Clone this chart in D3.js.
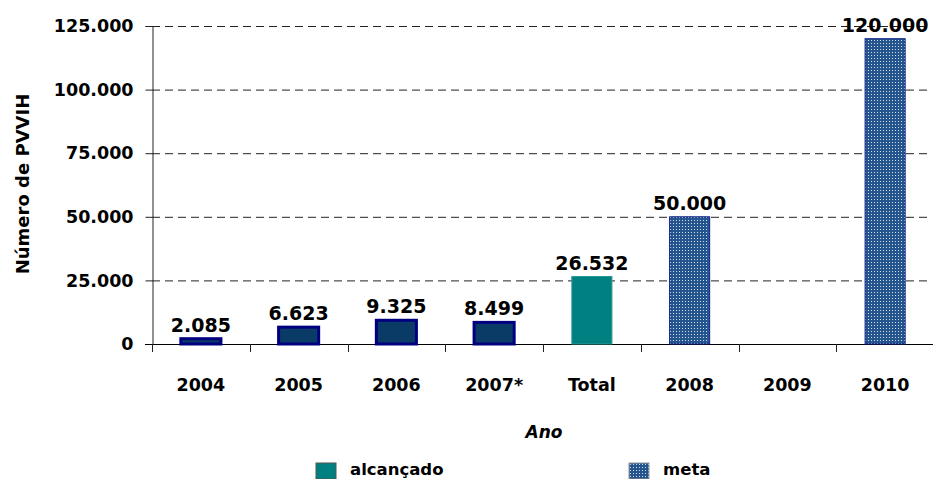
<!DOCTYPE html>
<html>
<head>
<meta charset="utf-8">
<script src="https://cdn.jsdelivr.net/npm/d3@7"></script>
<style>
  body { margin: 0; background: #fff; }
  text { font-family: "DejaVu Sans", sans-serif; font-weight: bold; fill: #000; }
</style>
</head>
<body>
<div id="chart"></div>
<script>
// dados
var categorias = ["2004", "2005", "2006", "2007*", "Total", "2008", "2009", "2010"];
var anuais = [
  { ano: "2004", valor: 2085 },
  { ano: "2005", valor: 6623 },
  { ano: "2006", valor: 9325 },
  { ano: "2007*", valor: 8499 }
];
var alcancado = [{ ano: "Total", valor: 26532 }];
var meta = [
  { ano: "2008", valor: 50000 },
  { ano: "2010", valor: 120000 }
];
var yTicks = [0, 25000, 50000, 75000, 100000, 125000];
var legendaItens = ["alcançado", "meta"];

var width = 933, height = 479;
var margin = { left: 152, right: -1, top: 26, bottom: 135 };

var svg = d3.select("#chart").append("svg")
  .attr("width", width)
  .attr("height", height);

// padrão pontilhado da meta
var defs = svg.append("defs");
var pat = defs.append("pattern")
  .attr("id", "pontos")
  .attr("patternUnits", "userSpaceOnUse")
  .attr("width", 3).attr("height", 3);
pat.append("rect").attr("width", 3).attr("height", 3).attr("fill", "#24558f");
pat.append("rect").attr("x", 1).attr("y", 1).attr("width", 1).attr("height", 1).attr("fill", "#d4deea");

var x = d3.scaleBand()
  .domain(categorias)
  .range([margin.left, width - margin.right])
  .paddingInner(0.59)
  .paddingOuter(0.295);

var y = d3.scaleLinear()
  .domain([0, 125000])
  .range([height - margin.bottom, margin.top]);

var fmt = function(v) { return d3.format(",")(v).replace(/,/g, "."); };

// linhas de grade
svg.append("g")
  .selectAll("line")
  .data(yTicks.filter(function(d) { return d > 0; }))
  .enter().append("line")
  .attr("x1", margin.left).attr("x2", width - 3)
  .attr("y1", function(d) { return y(d) + 0.5; })
  .attr("y2", function(d) { return y(d) + 0.5; })
  .attr("stroke", "#222")
  .attr("stroke-dasharray", "8,5");

// eixo y
var yAxis = svg.append("g")
  .attr("transform", "translate(" + (margin.left + 0.5) + ",0)")
  .call(d3.axisLeft(y).tickValues(yTicks).tickFormat(fmt).tickSize(7).tickPadding(12));
yAxis.select(".domain").attr("stroke", "#222");
yAxis.selectAll(".tick line").attr("stroke", "#222");
yAxis.selectAll("text").style("font-size", "17.5px");

// eixo x: marcas nas fronteiras das categorias
var passo = x.step();
var xg = svg.append("g");
xg.append("line")
  .attr("x1", margin.left - 7).attr("x2", width)
  .attr("y1", y(0) + 0.5).attr("y2", y(0) + 0.5)
  .attr("stroke", "#000");
xg.selectAll("line.tk")
  .data(categorias)
  .enter().append("line")
  .attr("class", "tk")
  .attr("x1", function(d) { return Math.round(x(d) - passo * x.paddingOuter()) + 0.5; })
  .attr("x2", function(d) { return Math.round(x(d) - passo * x.paddingOuter()) + 0.5; })
  .attr("y1", y(0)).attr("y2", y(0) + 8)
  .attr("stroke", "#222");
xg.selectAll("text")
  .data(categorias)
  .enter().append("text")
  .attr("x", function(d) { return x(d) + x.bandwidth() / 2; })
  .attr("y", y(0) + 47)
  .attr("text-anchor", "middle")
  .style("font-size", "17.5px")
  .text(function(d) { return d; });

// barras anuais
svg.append("g").selectAll("rect")
  .data(anuais)
  .enter().append("rect")
  .attr("x", function(d) { return x(d.ano); })
  .attr("y", function(d) { return y(d.valor); })
  .attr("width", x.bandwidth())
  .attr("height", function(d) { return y(0) - y(d.valor); })
  .attr("fill", "#0a3b66")
  .attr("stroke", "#000080")
  .attr("stroke-width", 3);

// total alcançado
svg.append("g").selectAll("rect")
  .data(alcancado)
  .enter().append("rect")
  .attr("x", function(d) { return x(d.ano); })
  .attr("y", function(d) { return y(d.valor); })
  .attr("width", x.bandwidth())
  .attr("height", function(d) { return y(0) - y(d.valor); })
  .attr("fill", "#008080")
  .attr("stroke", "#2a9a9a")
  .attr("stroke-width", 1);

// metas
svg.append("g").selectAll("rect")
  .data(meta)
  .enter().append("rect")
  .attr("x", function(d) { return x(d.ano); })
  .attr("y", function(d) { return y(d.valor); })
  .attr("width", x.bandwidth())
  .attr("height", function(d) { return y(0) - y(d.valor); })
  .attr("fill", "url(#pontos)")
  .attr("stroke", "#10208a")
  .attr("stroke-width", 1);

// rótulos de valor
svg.append("g").selectAll("text")
  .data(anuais.concat(alcancado, meta))
  .enter().append("text")
  .attr("x", function(d) { return x(d.ano) + x.bandwidth() / 2; })
  .attr("y", function(d) { return y(d.valor) - 7; })
  .attr("text-anchor", "middle")
  .style("font-size", "19px")
  .text(function(d) { return fmt(d.valor); });

// títulos dos eixos
svg.append("text")
  .attr("transform", "translate(29,184) rotate(-90)")
  .attr("text-anchor", "middle")
  .style("font-size", "18px")
  .text("Número de PVVIH");

svg.append("text")
  .attr("x", 544).attr("y", 438)
  .attr("text-anchor", "middle")
  .style("font-size", "17px")
  .style("font-style", "italic")
  .text("Ano");

// legenda
var legX = [316, 629];
var leg = svg.append("g").selectAll("g")
  .data(legendaItens)
  .enter().append("g")
  .attr("transform", function(d, i) { return "translate(" + legX[i] + ",463)"; });
leg.append("rect")
  .attr("width", 20)
  .attr("height", 16)
  .attr("fill", function(d, i) { return i === 0 ? "#008080" : "url(#pontos)"; })
  .attr("stroke", function(d, i) { return i === 0 ? "#555" : "#999"; })
  .attr("stroke-width", 1);
leg.append("text")
  .attr("x", 34)
  .attr("y", 12)
  .style("font-size", "16.5px")
  .text(function(d) { return d; });
</script>
</body>
</html>
